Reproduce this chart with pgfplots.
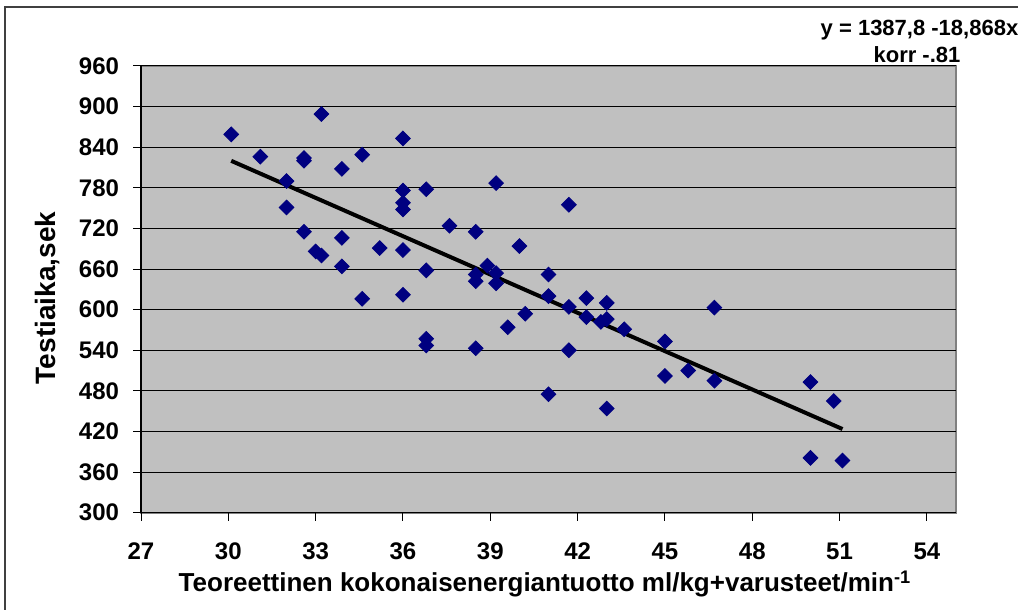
\documentclass[border=0pt]{standalone}
\usepackage{pgfplots}
\pgfplotsset{compat=1.18}
\usepackage{fontspec}
\setmainfont{Liberation Sans}
\definecolor{plotgray}{HTML}{C0C0C0}
\definecolor{framegray}{HTML}{808080}
\definecolor{navy}{HTML}{000080}
\begin{document}
\begin{tikzpicture}
\path[use as bounding box] (0,0) rectangle (509bp,305bp);
\draw[line width=1bp, black!75] (2.5bp,0) -- (2.5bp,301.5bp) -- (509bp,301.5bp);
\begin{axis}[
  at={(70.5bp,48.65bp)}, anchor=south west,
  scale only axis, width=407.5bp, height=223.35bp,
  xmin=27, xmax=55, ymin=300, ymax=960,
  xtick={27,30,...,54}, ytick={300,360,...,960},
  axis background/.style={fill=plotgray, draw=framegray, line width=1bp},
  axis x line*=bottom, axis y line*=left,
  axis line style={-, black, line width=0.75bp},
  ymajorgrids, grid style={black, line width=0.5bp},
  tick align=outside, major tick length=4bp,
  tick style={black, line width=0.5bp},
  /pgf/number format/assume math mode=true,
  tick label style={font=\fontsize{12bp}{14bp}\selectfont\bfseries},
  xticklabel style={yshift=-7.7bp},
  yticklabel style={xshift=-3.5bp},
  xlabel={Teoreettinen kokonaisenergiantuotto ml/kg+varusteet/min\textsuperscript{-1}},
  ylabel={Testiaika,sek},
  xlabel style={at={(axis description cs:0.4957,-0.1775)}, anchor=base, font=\fontsize{13bp}{15bp}\selectfont\bfseries},
  ylabel style={at={(axis description cs:-0.1055,0.4807)}, anchor=base, font=\fontsize{14bp}{16bp}\selectfont\bfseries},
]
\addplot[only marks, mark=square*, mark size=2.6bp, mark options={rotate=45, fill=navy, draw=navy}] coordinates {
(30.1,859) (31.1,826) (32.0,790) (32.0,751) (32.6,824) (32.6,820) (32.6,715)
(33.0,686) (33.2,680) (33.2,889) (33.9,808) (33.9,706) (33.9,664)
(34.6,829) (34.6,616) (35.2,691)
(36.0,853) (36.0,776) (36.0,758) (36.0,748) (36.0,688) (36.0,622)
(36.8,778) (36.8,658) (36.8,557) (36.8,547)
(37.6,724) (38.5,715) (38.5,652) (38.5,642) (38.5,543) (38.9,665)
(39.2,787) (39.2,654) (39.2,639) (39.6,574) (40.0,694) (40.2,594)
(41.0,652) (41.0,620) (41.0,475) (41.7,755) (41.7,604) (41.7,540)
(42.3,617) (42.3,589) (42.8,582) (43.0,610) (43.0,586) (43.0,454) (43.6,571)
(45.0,553) (45.0,502) (45.8,510) (46.7,603) (46.7,495)
(50.0,493) (50.8,465) (50.0,381) (51.1,377)
};
\addplot[black, line width=2bp, no marks] coordinates {(30.1,819.9) (51.1,423.6)};
\end{axis}
\node[anchor=base, font=\fontsize{11bp}{13bp}\selectfont\bfseries] at (459.75bp,287bp) {y = 1387,8 -18,868x};
\node[anchor=base, font=\fontsize{11bp}{13bp}\selectfont\bfseries] at (458.5bp,273.5bp) {korr -.81};
\end{tikzpicture}
\end{document}
